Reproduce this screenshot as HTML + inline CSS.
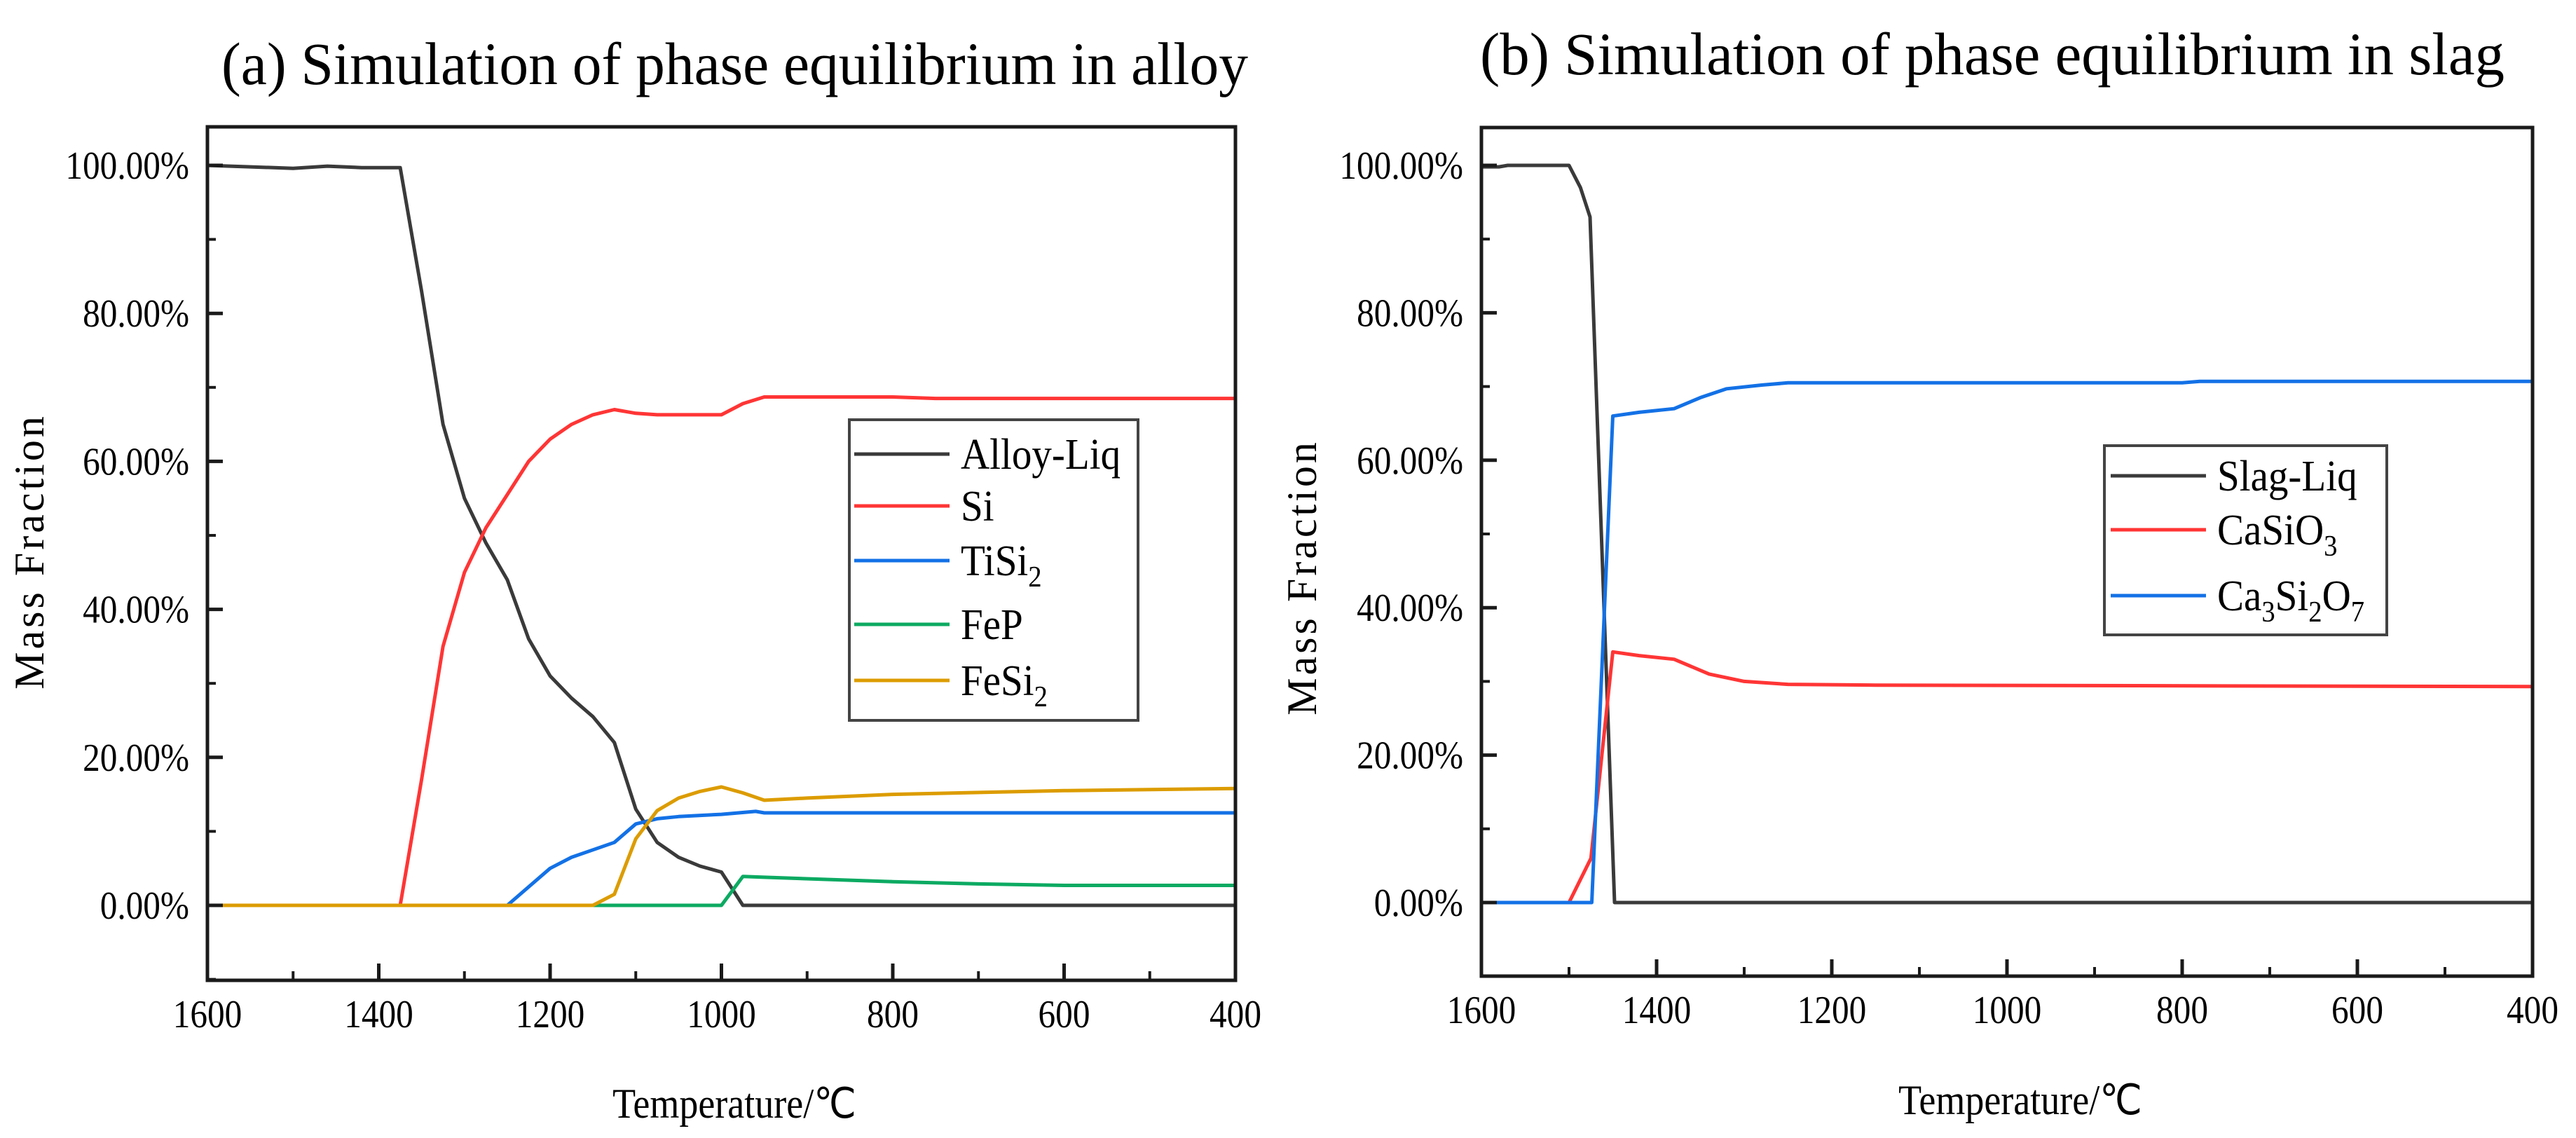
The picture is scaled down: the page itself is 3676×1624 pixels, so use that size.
<!DOCTYPE html>
<html>
<head>
<meta charset="utf-8">
<style>
html,body{margin:0;padding:0;background:#fff;}
svg{display:block;font-family:"Liberation Serif","Times New Roman",serif;}
</style>
</head>
<body>
<svg id="fig" width="3676" height="1624" viewBox="0 0 3676 1624" xmlns="http://www.w3.org/2000/svg">
<text x="316" y="120" font-size="86" textLength="1465" lengthAdjust="spacingAndGlyphs" fill="#000">(a)  Simulation of phase equilibrium in alloy</text>
<text x="2112" y="106" font-size="86" textLength="1462" lengthAdjust="spacingAndGlyphs" fill="#000">(b)   Simulation of phase equilibrium in slag</text>
<g id="plotA"></g>
<g id="plotB"></g>
</svg>
<script>
// ---- data: plot (a) alloy ----
const alloyLiqT = [1600,1550,1500,1460,1420,1375,1350,1325,1300,1275,1250,1225,1200,1175,1150,1125,1100,1075,1050,1025,1000,975,400];
const alloyLiqV = [100,99.8,99.6,99.9,99.7,99.7,83,65,55,49,44,36,31,28,25.5,22,13,8.5,6.5,5.3,4.5,0,0];
const siT = [1600,1375,1350,1325,1300,1275,1250,1225,1200,1175,1150,1125,1100,1075,1000,975,950,800,750,400];
const siV = [0,0,17,35,45,51,55.5,60,63,65,66.3,67,66.5,66.3,66.3,67.8,68.7,68.7,68.5,68.5];
const tisi2T = [1600,1250,1200,1175,1150,1125,1100,1075,1050,1000,960,950,400];
const tisi2V = [0,0,5,6.5,7.5,8.5,11,11.7,12,12.3,12.7,12.5,12.5];
const fepT = [1600,1000,975,950,800,700,600,400];
const fepV = [0,0,3.9,3.8,3.2,2.9,2.7,2.7];
const fesi2T = [1600,1150,1125,1100,1075,1050,1025,1000,975,950,900,800,600,400];
const fesi2V = [0,0,1.5,9,12.8,14.5,15.4,16,15.2,14.2,14.5,15,15.5,15.8];
// ---- data: plot (b) slag ----
const slagLiqT = [1600,1580,1570,1500,1487,1476,1448,400];
const slagLiqV = [99.8,99.8,100,100,97,93,0,0];
const casio3T = [1500,1475,1450,1420,1380,1340,1300,1250,1150,400];
const casio3V = [0,6,34,33.5,33,31,30,29.6,29.5,29.3];
const ca3si2o7T = [1600,1474,1450,1420,1380,1350,1320,1280,1250,800,780,400];
const ca3si2o7V = [0,0,66,66.5,67,68.5,69.7,70.2,70.5,70.5,70.7,70.7];
// ticks
const xTicks = [1600,1400,1200,1000,800,600,400];
const xMinor = [1500,1300,1100,900,700,500];
const yTicks = [0,20,40,60,80,100];
const yTickLabels = ["0.00%","20.00%","40.00%","60.00%","80.00%","100.00%"];
const yMinor = [-10,10,30,50,70,90];

const NS="http://www.w3.org/2000/svg";
function mk(tag, attrs, parent){const e=document.createElementNS(NS,tag);for(const k in attrs)e.setAttribute(k,attrs[k]);parent.appendChild(e);return e;}
function squeeze(t,f){const w=t.getComputedTextLength();if(w>0){t.setAttribute('textLength',(w*f).toFixed(1));t.setAttribute('lengthAdjust','spacingAndGlyphs');}}

function buildPlot(g, box, series, legend, tag){
  const xs = t => box.x0 + (1600 - t)/1200*(box.x1-box.x0);
  const ys = v => box.y0 - v/100*(box.y0-box.y100);
  series.forEach(s=>{
    const d = s.t.map((t,i)=>(i?'L':'M')+xs(t).toFixed(1)+','+ys(s.v[i]).toFixed(1)).join(' ');
    const p = mk('path',{d:d,fill:'none',stroke:s.c,'stroke-width':5,'stroke-linejoin':'round'},g);
    
    
  });
  const fr = mk('rect',{x:box.x0,y:box.top,width:box.x1-box.x0,height:box.bot-box.top,fill:'none',stroke:'#1a1a1a','stroke-width':5},g);
  
  
  xTicks.forEach(t=>{
    const x=xs(t);
    const l=mk('line',{x1:x,x2:x,y1:box.bot,y2:box.bot-24,stroke:'#1a1a1a','stroke-width':5},g);
    
    
    const tx=mk('text',{x:x,y:box.bot+67,'font-size':56,'text-anchor':'middle',fill:'#000'},g);
    tx.textContent=t;
    
    
    squeeze(tx,0.88);
  });
  xMinor.forEach(t=>{
    const x=xs(t);
    const l=mk('line',{x1:x,x2:x,y1:box.bot,y2:box.bot-13,stroke:'#1a1a1a','stroke-width':4},g);
    
    
  });
  yTicks.forEach((v,i)=>{
    const y=ys(v);
    const l=mk('line',{x1:box.x0,x2:box.x0+22,y1:y,y2:y,stroke:'#1a1a1a','stroke-width':5},g);
    
    
    const tx=mk('text',{x:box.x0-26,y:y+19,'font-size':56,'text-anchor':'end',fill:'#000'},g);
    tx.textContent=yTickLabels[i];
    
    
    squeeze(tx,0.88);
  });
  yMinor.forEach(v=>{
    const y=ys(v);
    const l=mk('line',{x1:box.x0,x2:box.x0+12,y1:y,y2:y,stroke:'#1a1a1a','stroke-width':4},g);
    
    
  });
  const xt=mk('text',{x:box.xtx,y:box.xty,'font-size':60,'text-anchor':'middle',fill:'#000'},g);
  xt.textContent='Temperature/\u2103';
  
  
  squeeze(xt,0.9);
  const yt=mk('text',{x:0,y:0,'font-size':60,'text-anchor':'middle',fill:'#000','letter-spacing':4,transform:'translate('+box.ytx+','+box.yty+') rotate(-90)'},g);
  yt.textContent='Mass Fraction';
  
  
  const lg=mk('g',{},g);
  
  
  mk('rect',{x:legend.x,y:legend.y,width:legend.w,height:legend.h,fill:'#fff',stroke:'#444','stroke-width':4},lg);
  legend.items.forEach((it,i)=>{
    const y=legend.rows[i];
    const e=mk('g',{},lg);
    
    
    mk('line',{x1:legend.lx1,x2:legend.lx2,y1:y,y2:y,stroke:it.c,'stroke-width':5},e);
    const t=mk('text',{x:legend.tx,y:y+21,'font-size':62,fill:'#000'},e);
    t.innerHTML=it.label;
    squeeze(t,0.92);
  });
}

const cBlack='#3a3a3a', cRed='#ff3535', cBlue='#1371e6', cGreen='#0caa62', cOrange='#dc9c00';

buildPlot(document.getElementById('plotA'),
  {x0:296,x1:1763,y0:1292,y100:236,top:181,bot:1399,xtx:1048,xty:1595,ytx:62,yty:787},
  [{id:'alloy-liq',t:alloyLiqT,v:alloyLiqV,c:cBlack},
   {id:'si',t:siT,v:siV,c:cRed},
   {id:'tisi2',t:tisi2T,v:tisi2V,c:cBlue},
   {id:'fep',t:fepT,v:fepV,c:cGreen},
   {id:'fesi2',t:fesi2T,v:fesi2V,c:cOrange}],
  {x:1212,y:599,w:412,h:429,lx1:1219,lx2:1355,tx:1371,rows:[648,722,800,891,971],
   items:[{id:'alloy-liq',c:cBlack,label:'Alloy-Liq'},
          {id:'si',c:cRed,label:'Si'},
          {id:'tisi2',c:cBlue,label:'TiSi<tspan font-size="42" dy="16">2</tspan>'},
          {id:'fep',c:cGreen,label:'FeP'},
          {id:'fesi2',c:cOrange,label:'FeSi<tspan font-size="42" dy="16">2</tspan>'}]},'a');

buildPlot(document.getElementById('plotB'),
  {x0:2114,x1:3614,y0:1288,y100:236,top:182,bot:1393,xtx:2883,xty:1590,ytx:1878,yty:824},
  [{id:'slag-liq',t:slagLiqT,v:slagLiqV,c:cBlack},
   {id:'casio3',t:casio3T,v:casio3V,c:cRed},
   {id:'ca3si2o7',t:ca3si2o7T,v:ca3si2o7V,c:cBlue}],
  {x:3003,y:636,w:403,h:270,lx1:3012,lx2:3148,tx:3164,rows:[679,756,850],
   items:[{id:'slag-liq',c:cBlack,label:'Slag-Liq'},
          {id:'casio3',c:cRed,label:'CaSiO<tspan font-size="42" dy="16">3</tspan>'},
          {id:'ca3si2o7',c:cBlue,label:'Ca<tspan font-size="42" dy="16">3</tspan><tspan dy="-16">Si</tspan><tspan font-size="42" dy="16">2</tspan><tspan dy="-16">O</tspan><tspan font-size="42" dy="16">7</tspan>'}]},'b');
</script>
</body>
</html>
